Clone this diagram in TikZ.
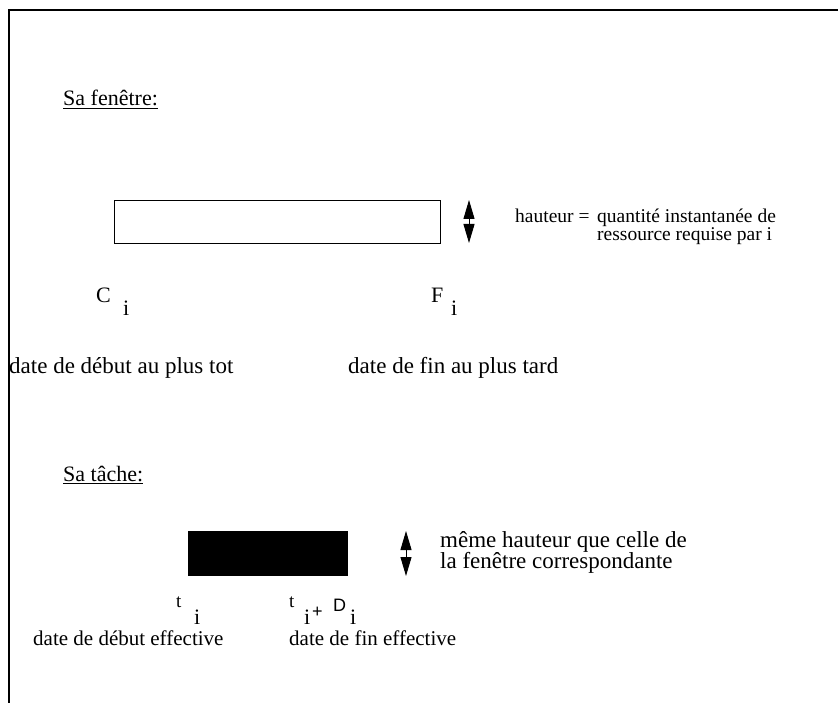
\documentclass[tikz,border=0pt]{standalone}
\usepackage{fontspec}
\setmainfont{Liberation Serif}
\newfontfamily\helv{Liberation Sans}
\usetikzlibrary{arrows.meta}
\begin{document}
\begin{tikzpicture}[x=1pt,y=-1pt,
  txt/.style={inner sep=0pt,anchor=base west,font=\fontsize{23}{23}\selectfont},
  btxt/.style={inner sep=0pt,anchor=base west,font=\fontsize{21}{21}\selectfont},
  ttl/.style={inner sep=0pt,anchor=base west,font=\fontsize{22}{22}\selectfont},
  smalltxt/.style={inner sep=0pt,anchor=base west,font=\fontsize{19.5}{19.5}\selectfont},
  sym/.style={inner sep=0pt,anchor=base west,font=\fontsize{22}{22}\selectfont},
  tsym/.style={inner sep=0pt,anchor=base west,font=\fontsize{19}{19}\selectfont},
  dsym/.style={inner sep=0pt,anchor=base west,font=\helv\fontsize{18}{18}\selectfont},
  dblarrow/.style={line width=1pt,{Triangle[length=19pt,width=11pt]}-{Triangle[length=19pt,width=11pt]}},
  frame/.style={line width=1.2pt}]
\useasboundingbox (0,0) rectangle (838,703);
% frame
\coordinate (ftr) at (838,10);
\coordinate (ftl) at (9,10);
\coordinate (fbl) at (9,703);
\draw[frame] (ftr) -- (ftl) -- (fbl);
% Sa fenetre
\node[ttl] (titre1) at (63,106) {\underline{Sa fenêtre:}};
\node[draw,line width=0.9pt,inner sep=0pt,minimum width=326pt,minimum height=43pt,anchor=north west] (fen) at (114,200) {};
\coordinate (a1t) at (469,200);
\coordinate (a1b) at (469,243);
\draw[dblarrow] (a1t) -- (a1b);
\node[smalltxt] (haut) at (515,223) {hauteur =};
\node[smalltxt] (q1) at (597,223) {quantité instantanée de};
\node[smalltxt] (q2) at (597,241) {ressource requise par i};
\node[sym] (C) at (96,303) {C};
\node[sym] (Ci) at (123,316) {i};
\node[sym] (F) at (431,303) {F};
\node[sym] (Fi) at (451,316) {i};
\node[txt] (d1) at (9,373) {date de début au plus tot};
\node[txt] (d2) at (348,373) {date de fin au plus tard};
% Sa tache
\node[ttl] (titre2) at (63,481) {\underline{Sa tâche:}};
\node[fill=black,inner sep=0pt,minimum width=160pt,minimum height=45pt,anchor=north west] (tache) at (188,531) {};
\coordinate (a2t) at (406,531);
\coordinate (a2b) at (406,576);
\draw[dblarrow] (a2t) -- (a2b);
\node[txt] (m1) at (440,547) {même hauteur que celle de};
\node[txt] (m2) at (440,568) {la fenêtre correspondante};
\node[tsym] (t1) at (176,607) {t};
\node[sym] (t1i) at (194,624) {i};
\node[tsym] (t2) at (289,607) {t};
\node[sym] (t2i) at (304,624) {i};
\node[dsym] (plus) at (312,617) {+};
\node[dsym] (D) at (333,611) {D};
\node[sym] (Di) at (350,624) {i};
\node[btxt] (e1) at (33,645) {date de début effective};
\node[btxt] (e2) at (289,645) {date de fin effective};
\end{tikzpicture}
\end{document}
